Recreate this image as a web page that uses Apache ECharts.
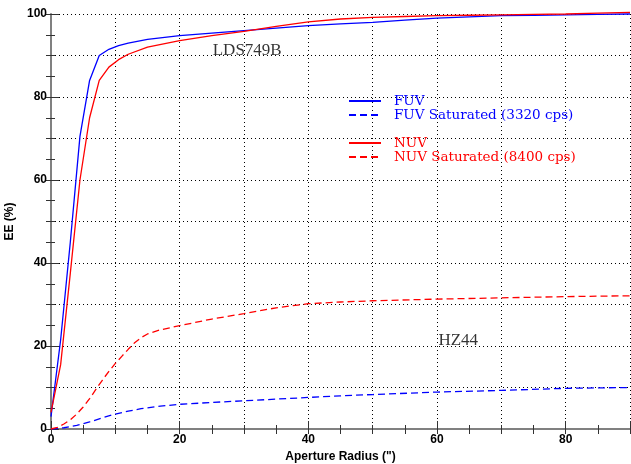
<!DOCTYPE html>
<html>
<head>
<meta charset="utf-8">
<script src="https://cdn.jsdelivr.net/npm/echarts@6/dist/echarts.min.js"></script>
<style>html,body{margin:0;padding:0;background:#fff}#c{width:631px;height:464px}</style>
</head>
<body>
<div id="c"></div>
<script>
// ---- data ----
var solidRadius = [0, 1.5, 3, 4.5, 6, 7.5, 9, 10.5, 12, 15, 20, 25, 30, 35, 40, 45, 50, 55, 60, 65, 70, 75, 80, 85, 90];
var fuvEE = [3, 21.5, 45, 70.5, 84, 90, 91.5, 92.4, 93, 93.9, 94.8, 95.4, 96, 96.6, 97.2, 97.6, 98, 98.5, 99, 99.3, 99.6, 99.7, 99.8, 99.9, 100];
var nuvEE = [4, 15.5, 37.5, 60, 75, 84, 87.2, 89, 90.3, 92, 93.6, 94.8, 95.8, 97, 98.1, 98.8, 99.2, 99.4, 99.6, 99.7, 99.8, 99.9, 100, 100.2, 100.4];
var fuvSatRadius = [0, 2, 4, 6, 8, 10, 12, 14, 17, 20, 25, 30, 35, 40, 45, 50, 60, 70, 80, 90];
var fuvSatEE = [0, 0.3, 0.9, 1.7, 2.7, 3.6, 4.3, 4.9, 5.5, 5.95, 6.4, 6.8, 7.2, 7.6, 8.0, 8.3, 8.9, 9.3, 9.8, 10];
var nuvSatRadius = [0, 1, 2, 3, 4, 5, 6, 7, 8, 9, 10, 11, 12, 13, 14, 15, 17, 20, 25, 30, 35, 40, 45, 50, 60, 70, 80, 90];
var nuvSatEE = [0, 0.4, 1.2, 2.2, 3.6, 5.3, 7.3, 9.6, 11.8, 13.9, 15.8, 17.5, 19.2, 20.8, 22, 22.9, 23.9, 24.9, 26.5, 27.8, 29.2, 30.2, 30.6, 30.9, 31.3, 31.6, 31.9, 32.1];
var seriesNames = ['FUV', 'FUV Saturated (3320 cps)', 'NUV', 'NUV Saturated (8400 cps)'];
var annotations = [{name: 'LDS749B', x: 30.5, y: 91.1}, {name: 'HZ44', x: 63.3, y: 21.2}];

function pairs(xs, ys) { return xs.map(function (x, i) { return [x, ys[i]]; }); }

var BLUE = '#0000ff', RED = '#ff0000';
var labelFont = {fontFamily: 'Liberation Sans', fontWeight: 'bold', fontSize: 12, color: '#000'};
var dotted = {color: '#000', width: 1, type: [1, 3]};

function lineSeries(name, data, color, dashed) {
  return {
    name: name, type: 'line', data: data, symbol: 'none', clip: false,
    xAxisIndex: 0, yAxisIndex: 0, animation: false,
    lineStyle: {color: color, width: 1.3, type: dashed ? [7, 4] : 'solid'},
    itemStyle: {color: color}, z: 5
  };
}

function legendBlock(names, color, top) {
  return {
    data: names.map(function (n) { return {name: n, textStyle: {color: color}}; }),
    orient: 'vertical', left: 348, top: top, padding: 0,
    itemWidth: 32, itemHeight: 13.6, itemGap: 0, selectedMode: false,
    itemStyle: {opacity: 0, borderWidth: 0},
    textStyle: {fontFamily: 'DejaVu Serif', fontSize: 13.5, lineHeight: 13.6, padding: [0, 0, 0, 8]}
  };
}

var chart = echarts.init(document.getElementById('c'), null, {renderer: 'canvas'});
chart.setOption({
  animation: false,
  backgroundColor: '#fff',
  grid: {left: 51, right: 1, top: 14, bottom: 35, containLabel: false, outerBoundsMode: 'none'},
  legend: [
    legendBlock([seriesNames[0], seriesNames[1]], BLUE, 94),
    legendBlock([seriesNames[2], seriesNames[3]], RED, 136)
  ],
  xAxis: [
    {
      type: 'value', min: 0, max: 90, interval: 20, position: 'bottom',
      name: 'Aperture Radius (")', nameLocation: 'middle', nameGap: 19,
      nameTextStyle: labelFont,
      axisLine: {show: true, onZero: false, lineStyle: {color: '#808080', width: 2}},
      axisTick: {show: true, inside: true, length: 8, lineStyle: {color: '#333', width: 1}},
      minorTick: {show: true, splitNumber: 4, length: 4, lineStyle: {color: '#333', width: 1}},
      axisLabel: Object.assign({margin: 5, showMaxLabel: false}, labelFont),
      splitLine: {show: false}
    },
    {
      type: 'value', min: 0, max: 90, interval: 10, position: 'top',
      axisLine: {show: false},
      axisTick: {show: true, inside: true, length: 5, lineStyle: {color: '#333', width: 1}},
      minorTick: {show: true, splitNumber: 2, length: 5, lineStyle: {color: '#333', width: 1}},
      axisLabel: {show: false},
      splitLine: {show: true, lineStyle: dotted}
    }
  ],
  yAxis: [
    {
      type: 'value', min: 0, max: 100, interval: 20, position: 'left',
      name: 'EE (%)', nameLocation: 'middle', nameGap: 32, nameRotate: 90,
      nameTextStyle: labelFont,
      axisLine: {show: true, onZero: false, lineStyle: {color: '#808080', width: 2}},
      axisTick: {show: true, inside: true, length: 8, lineStyle: {color: '#333', width: 1}},
      minorTick: {show: true, splitNumber: 4, length: 4, lineStyle: {color: '#333', width: 1}},
      axisLabel: Object.assign({margin: 4}, labelFont),
      splitLine: {show: false}
    },
    {
      type: 'value', min: 0, max: 100, interval: 10, position: 'right',
      axisLine: {show: false},
      axisTick: {show: true, inside: true, length: 5, lineStyle: {color: '#333', width: 1}},
      minorTick: {show: true, splitNumber: 2, length: 5, lineStyle: {color: '#333', width: 1}},
      axisLabel: {show: false},
      splitLine: {show: true, lineStyle: dotted}
    }
  ],
  series: [
    lineSeries(seriesNames[0], pairs(solidRadius, fuvEE), BLUE, false),
    lineSeries(seriesNames[1], pairs(fuvSatRadius, fuvSatEE), BLUE, true),
    lineSeries(seriesNames[2], pairs(solidRadius, nuvEE), RED, false),
    lineSeries(seriesNames[3], pairs(nuvSatRadius, nuvSatEE), RED, true),
    {
      type: 'scatter', xAxisIndex: 0, yAxisIndex: 0, symbolSize: 0, silent: true, z: 6,
      data: annotations.map(function (a) { return {name: a.name, value: [a.x, a.y]}; }),
      label: {show: true, position: 'inside', formatter: '{b}', fontFamily: 'Liberation Serif', fontSize: 17, color: '#000'}
    }
  ]
});
</script>
</body>
</html>
